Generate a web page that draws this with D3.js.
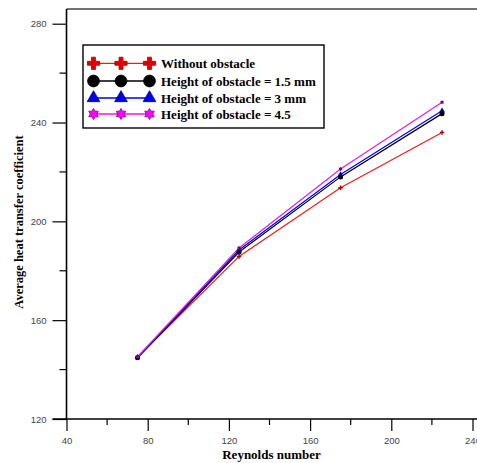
<!DOCTYPE html>
<html>
<head>
<meta charset="utf-8">
<script src="https://cdn.jsdelivr.net/npm/d3@7"></script>
<style>
body { margin:0; background:#fff; }
svg { display:block; }
</style>
</head>
<body>
<svg></svg>
<script>
const svgWidth = 477
const svgHeight = 463
const margins = {top:9, bottom:44, left:66.5, right:4.3}

// data
const reynolds = [75, 125, 175, 225]
const seriesNames = ["Without obstacle", "Height of obstacle = 1.5 mm", "Height of obstacle = 3 mm", "Height of obstacle = 4.5"]
const withoutObstacle = [145.0, 185.8, 213.6, 236.0]
const height15 = [144.8, 187.6, 218.0, 243.6]
const height3 = [145.0, 188.4, 219.0, 244.8]
const height45 = [145.2, 189.2, 221.2, 248.2]
const xTicks = [40, 80, 120, 160, 200, 240]
const yTicks = [120, 160, 200, 240, 280]

// thin plus and six-pointed star, like the original plot symbols
const thinCross = {
  draw(ctx, size) {
    const r = Math.sqrt(size) / 2, w = r * 0.32
    ctx.moveTo(-r, -w); ctx.lineTo(-w, -w); ctx.lineTo(-w, -r); ctx.lineTo(w, -r); ctx.lineTo(w, -w)
    ctx.lineTo(r, -w); ctx.lineTo(r, w); ctx.lineTo(w, w); ctx.lineTo(w, r); ctx.lineTo(-w, r)
    ctx.lineTo(-w, w); ctx.lineTo(-r, w); ctx.closePath()
  }
}
const hexStar = {
  draw(ctx, size) {
    const r = Math.sqrt(size) / 2, ri = r * 0.6
    for (let k = 0; k < 12; k++) {
      const a = Math.PI / 6 * k - Math.PI / 2
      const rr = k % 2 ? ri : r
      if (k === 0) ctx.moveTo(rr * Math.cos(a), rr * Math.sin(a))
      else ctx.lineTo(rr * Math.cos(a), rr * Math.sin(a))
    }
    ctx.closePath()
  }
}

const series = [
  {name:seriesNames[0], values:withoutObstacle, color:"#e8201c", stroke:"#b00000", fill:"#e00000", symbol:thinCross, lsize:150},
  {name:seriesNames[1], values:height15, color:"#000000", stroke:"#000", fill:"#000", symbol:d3.symbolCircle, lsize:110},
  {name:seriesNames[2], values:height3, color:"#0000ee", stroke:"#00008b", fill:"#0000ee", symbol:d3.symbolTriangle, lsize:70},
  {name:seriesNames[3], values:height45, color:"#e020e0", stroke:"#800080", fill:"#ff00ff", symbol:hexStar, lsize:120}
]

const svg = d3.select("svg")
  .attr("width", svgWidth)
  .attr("height", svgHeight)

const xScale = d3.scaleLinear().domain([40, 240]).range([0, 406])
const yScale = d3.scaleLinear().domain([120, 280]).range([410, 14.7])

const g = svg.append("g").attr("transform", `translate(${margins.left},${margins.top})`)

// frame top
g.append("line").attr("x1", 0).attr("x2", svgWidth).attr("y1", 0).attr("y2", 0)
  .attr("stroke", "#444").attr("stroke-width", 1.5)

// minor ticks
const xMinor = d3.range(60, 240, 40)
const yMinor = d3.range(140, 280, 40).concat([300])
g.append("g").selectAll("line").data(xMinor).enter().append("line")
  .attr("x1", d => xScale(d)).attr("x2", d => xScale(d))
  .attr("y1", 410).attr("y2", 416).attr("stroke", "#000").attr("stroke-width", 1.2)
g.append("g").selectAll("line").data(yMinor.filter(d => yScale(d) > 0)).enter().append("line")
  .attr("x1", -7).attr("x2", 0)
  .attr("y1", d => yScale(d)).attr("y2", d => yScale(d)).attr("stroke", "#000").attr("stroke-width", 1.2)

const xAxis = g.append("g")
  .attr("transform", "translate(0,410)")
  .call(d3.axisBottom(xScale).tickValues(xTicks).tickSize(12).tickPadding(6).tickFormat(d3.format("d")))
const yAxis = g.append("g")
  .call(d3.axisLeft(yScale).tickValues(yTicks).tickSize(14).tickPadding(6).tickFormat(d3.format("d")))

;[xAxis, yAxis].forEach(a => {
  a.select(".domain").remove()
  a.selectAll("line").attr("stroke", "#000").attr("stroke-width", 1.2)
  a.selectAll("text").attr("font-family", "Arial, 'Liberation Sans', sans-serif").attr("font-size", 9.5).attr("fill", "#444")
})
// axis lines
g.append("line").attr("x1", 0).attr("x2", 0).attr("y1", 0).attr("y2", 410).attr("stroke", "#000").attr("stroke-width", 1.6)
g.append("line").attr("x1", -14).attr("x2", svgWidth).attr("y1", 410).attr("y2", 410).attr("stroke", "#000").attr("stroke-width", 1.6)

// series lines
const line = d3.line().x((d, i) => xScale(reynolds[i])).y(d => yScale(d))
series.forEach(s => {
  g.append("path").datum(s.values)
    .attr("d", line).attr("fill", "none").attr("stroke", s.color).attr("stroke-width", 1.2)
})
series.forEach(s => {
  g.append("g").selectAll("path").data(s.values).enter().append("path")
    .attr("transform", (d, i) => `translate(${xScale(reynolds[i])},${yScale(d)})`)
    .attr("d", d3.symbol().type(s.symbol).size(s.symbol === d3.symbolTriangle ? 14 : 20))
    .attr("fill", s.stroke)
})

// axis titles
svg.append("text")
  .attr("x", margins.left + xScale(141)).attr("y", 459)
  .attr("text-anchor", "middle")
  .attr("font-family", "'Liberation Serif', 'Times New Roman', serif")
  .attr("font-weight", "bold").attr("font-size", 13)
  .text("Reynolds number")
svg.append("text")
  .attr("transform", "translate(23,222) rotate(-90)")
  .attr("text-anchor", "middle")
  .attr("font-family", "'Liberation Serif', 'Times New Roman', serif")
  .attr("font-weight", "bold").attr("font-size", 12.5)
  .text("Average heat transfer coefficient")

// legend
const legend = svg.append("g")
legend.append("rect").attr("x", 83).attr("y", 45).attr("width", 241).attr("height", 83)
  .attr("fill", "#fff").attr("stroke", "#000").attr("stroke-width", 1.4)
const legendY = [63.3, 81, 98, 114]
const legendX = [93.5, 121, 149.5]
series.forEach((s, i) => {
  const ly = legendY[i]
  legend.append("line").attr("x1", legendX[0]).attr("x2", legendX[2]).attr("y1", ly).attr("y2", ly)
    .attr("stroke", s.color).attr("stroke-width", 1.3)
  legendX.forEach(lx => {
    legend.append("path")
      .attr("transform", `translate(${lx},${ly})`)
      .attr("d", d3.symbol().type(s.symbol).size(s.lsize))
      .attr("fill", s.fill).attr("stroke", s.stroke).attr("stroke-width", 0.8)
  })
  legend.append("text").attr("x", 161).attr("y", ly + 4.5)
    .attr("font-family", "'Liberation Serif', 'Times New Roman', serif")
    .attr("font-weight", "bold").attr("font-size", 13)
    .text(s.name)
})
</script>
</body>
</html>
